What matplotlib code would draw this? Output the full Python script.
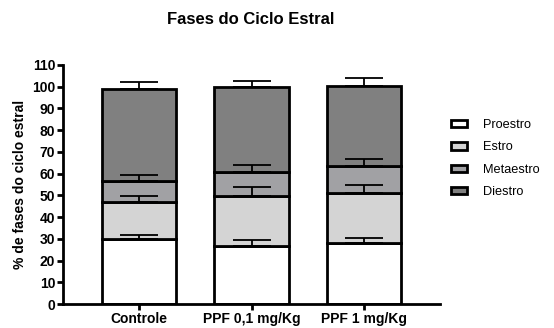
import numpy as np
import matplotlib
matplotlib.use("Agg")
import matplotlib.pyplot as plt

plt.rcParams['font.family'] = ['Liberation Sans', 'DejaVu Sans']

grupos = ["Controle", "PPF 0,1 mg/Kg", "PPF 1 mg/Kg"]
fases = ["Proestro", "Estro", "Metaestro", "Diestro"]

# media de cada fase (%) por grupo
proestro = [30.0, 26.5, 28.3]
estro = [17.1, 23.4, 23.0]
metaestro = [9.7, 10.8, 12.2]
diestro = [42.1, 39.0, 36.9]

# erro padrao (so a barra superior e desenhada)
erro_proestro = [1.9, 3.1, 2.1]
erro_estro = [2.5, 3.9, 3.7]
erro_metaestro = [2.8, 3.5, 3.2]
erro_diestro = [3.4, 3.0, 3.7]

cores = ["#ffffff", "#d4d4d4", "#a1a1a4", "#808080"]

valores = [proestro, estro, metaestro, diestro]
erros = [erro_proestro, erro_estro, erro_metaestro, erro_diestro]

fig = plt.figure(figsize=(5.54, 3.28), dpi=100)
ax = fig.add_axes([63 / 554, 1 - 304 / 328, 377 / 554, 239 / 328])

x = np.arange(len(grupos))
base = np.zeros(len(grupos))
for fase, vals, err, cor in zip(fases, valores, erros, cores):
    vals = np.array(vals)
    ax.bar(x, vals, 0.66, bottom=base, color=cor, edgecolor="black",
           linewidth=2, label=fase, zorder=2)
    topo = base + vals
    ax.errorbar(x, topo, yerr=[np.zeros(len(grupos)), err], fmt="none",
                ecolor="black", elinewidth=1.3, capsize=13.5, capthick=1.3,
                zorder=3)
    base = topo

ax.set_xlim(-0.676, 2.676)
ax.set_ylim(0, 110)
ax.set_yticks(np.arange(0, 111, 10))
ax.set_xticks(x)
ax.set_xticklabels(grupos, fontweight="bold", fontsize=10)
for lab in ax.get_yticklabels():
    lab.set_fontweight("bold")
    lab.set_fontsize(10)

for s in ["top", "right"]:
    ax.spines[s].set_visible(False)
for s in ["left", "bottom"]:
    ax.spines[s].set_linewidth(2)
ax.tick_params(axis="both", width=2, length=4, pad=1.5)

ax.set_ylabel("% de fases do ciclo estral", fontweight="bold", fontsize=10,
              labelpad=4)
fig.text(251 / 554, 1 - 19 / 328, "Fases do Ciclo Estral", ha="center",
         va="center", fontweight="bold", fontsize=12)

leg = ax.legend(loc="upper left", bbox_to_anchor=(1.03, 0.773), frameon=False,
                fontsize=9.2, handlelength=1.2, handleheight=0.5,
                labelspacing=0.8, handletextpad=1.25, borderpad=0,
                borderaxespad=0)

fig.savefig("out.png", dpi=100)
